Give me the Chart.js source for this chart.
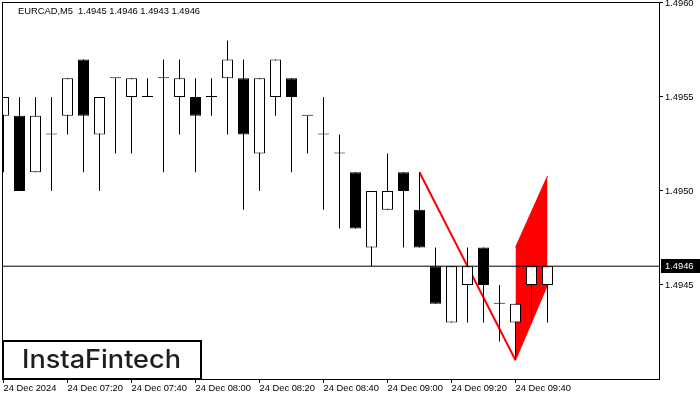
<!DOCTYPE html>
<html>
<head>
<meta charset="utf-8">
<script src="https://cdn.jsdelivr.net/npm/chart.js@4.4.1/dist/chart.umd.min.js"></script>
<style>
  html, body { margin: 0; padding: 0; background: #fff; }
  canvas { display: block; }
</style>
</head>
<body>
<canvas id="priceChart" width="700" height="400"></canvas>
<script>
// EURCAD M5 candles, 24 Dec 07:00 .. 09:50
const symbol = 'EURCAD,M5';
const opens  = [1.4954, 1.4954, 1.4951, 1.4953, 1.4954, 1.4957, 1.4953, 1.4956, 1.4955, 1.4955,
                1.4956, 1.4955, 1.4955, 1.4955, 1.4956, 1.4956, 1.4952, 1.4955, 1.4956, 1.4954,
                1.4953, 1.4952, 1.4951, 1.4947, 1.4949, 1.4951, 1.4949, 1.4946, 1.4943, 1.4945,
                1.4947, 1.4944, 1.4943, 1.4945, 1.4945];
const highs  = [1.4955, 1.4955, 1.4955, 1.4955, 1.4956, 1.4957, 1.4955, 1.4956, 1.4956, 1.4956,
                1.4957, 1.4957, 1.4956, 1.4956, 1.4958, 1.4957, 1.4956, 1.4957, 1.4956, 1.4954,
                1.4955, 1.4953, 1.4951, 1.4950, 1.4952, 1.4951, 1.4951, 1.4947, 1.4946, 1.4947,
                1.4947, 1.4945, 1.4944, 1.4946, 1.4946];
const lows   = [1.4951, 1.4950, 1.4951, 1.4950, 1.4953, 1.4951, 1.4950, 1.4952, 1.4952, 1.4955,
                1.4951, 1.4953, 1.4951, 1.4954, 1.4953, 1.4949, 1.4950, 1.4954, 1.4951, 1.4952,
                1.4949, 1.4948, 1.4948, 1.4946, 1.4949, 1.4947, 1.4947, 1.4944, 1.4943, 1.4943,
                1.4943, 1.4942, 1.4941, 1.4943, 1.4943];
const closes = [1.4955, 1.4950, 1.4954, 1.4953, 1.4956, 1.4954, 1.4955, 1.4956, 1.4956, 1.4955,
                1.4956, 1.4956, 1.4954, 1.4955, 1.4957, 1.4953, 1.4956, 1.4957, 1.4955, 1.4954,
                1.4953, 1.4952, 1.4948, 1.4950, 1.4950, 1.4950, 1.4947, 1.4944, 1.4946, 1.4946,
                1.4945, 1.4944, 1.4944, 1.4946, 1.4946];

const timeTickIndex  = [0, 4, 8, 12, 16, 20, 24, 28, 32];
const timeTickLabels = ['24 Dec 2024', '24 Dec 07:20', '24 Dec 07:40', '24 Dec 08:00', '24 Dec 08:20',
                        '24 Dec 08:40', '24 Dec 09:00', '24 Dec 09:20', '24 Dec 09:40'];
const priceTicks = [1.4945, 1.4950, 1.4955, 1.4960];

// bearish flag: pole from the high of bar 26 to the low of bar 32, flag over bars 32..34
const poleIndex  = [26, 32];
const polePrice  = [1.4951, 1.4941];
const flagIndex  = [32, 34];
const flagTop    = [1.4947, 1.49508];
const flagBottom = [1.4941, 1.4945];

const xMin = -0.09375, xMax = 40.96875;
const yMin = 1.4940, yMax = 1.4960053;

const last = closes.length - 1;
const lastPrice = closes[last];

Chart.defaults.font.family = '"Liberation Sans", Arial, sans-serif';
Chart.defaults.font.size = 9.33;
Chart.defaults.color = '#000';

const frame = {
    id: 'frame',
    afterDraw(chart) {
        const {ctx, chartArea: a} = chart;
        ctx.save();
        ctx.strokeStyle = '#000';
        ctx.lineWidth = 1;
        ctx.strokeRect(a.left + 0.5, a.top + 0.5, a.right - a.left, a.bottom - a.top);

        // header with symbol and last bar OHLC
        ctx.font = '9.33px "Liberation Sans", Arial, sans-serif';
        ctx.fillStyle = '#000';
        ctx.textBaseline = 'middle';
        ctx.textAlign = 'left';
        const ohlc = [opens[last], highs[last], lows[last], closes[last]].map(v => v.toFixed(4)).join(' ');
        ctx.fillText(symbol + '  ' + ohlc, 18, 11);

        // current price tag on the axis
        const y = chart.scales.y.getPixelForValue(lastPrice);
        ctx.fillStyle = '#000';
        ctx.fillRect(a.right + 2, Math.round(y) - 7, 700 - a.right - 2, 14);
        ctx.fillStyle = '#fff';
        ctx.fillText(lastPrice.toFixed(4), a.right + 6, y);

        // logo box
        ctx.fillStyle = '#fff';
        ctx.fillRect(3, 341, 198, 38);
        ctx.lineWidth = 2;
        ctx.strokeStyle = '#000';
        ctx.strokeRect(3, 341, 198, 38);
        ctx.font = '500 25px Inter, sans-serif';
        const w = ctx.measureText('InstaFintech').width;
        ctx.fillStyle = '#1e1e1e';
        ctx.textBaseline = 'alphabetic';
        ctx.translate(22, 368);
        ctx.scale(159 / w, 1);
        ctx.fillText('InstaFintech', 0, 0);
        ctx.restore();
    }
};

new Chart(document.getElementById('priceChart'), {
    type: 'bar',
    data: {
        datasets: [
            {
                type: 'line',
                data: [{x: xMin, y: lastPrice}, {x: xMax, y: lastPrice}],
                borderColor: '#000',
                borderWidth: 1,
                pointRadius: 0,
                order: 1
            },
            {
                type: 'bar',
                data: opens.map((o, i) => ({x: i, y: [o, closes[i]]})),
                backgroundColor: opens.map((o, i) => closes[i] > o ? '#fff' : '#000'),
                borderColor: '#000',
                borderWidth: 1,
                borderSkipped: false,
                barThickness: 11,
                minBarLength: 1,
                inflateAmount: 0,
                grouped: false,
                order: 2
            },
            {
                type: 'bar',
                data: lows.map((l, i) => ({x: i, y: [l, highs[i]]})),
                backgroundColor: '#000',
                borderWidth: 0,
                barThickness: 1,
                inflateAmount: 0,
                grouped: false,
                order: 3
            },
            {
                type: 'line',
                data: poleIndex.map((x, k) => ({x: x, y: polePrice[k]})),
                borderColor: '#ff0000',
                borderWidth: 2,
                pointRadius: 0,
                order: 4
            },
            {
                type: 'line',
                data: flagIndex.map((x, k) => ({x: x, y: flagTop[k]})),
                borderColor: '#ff0000',
                backgroundColor: '#ff0000',
                borderWidth: 1,
                pointRadius: 0,
                fill: '+1',
                order: 5
            },
            {
                type: 'line',
                data: flagIndex.map((x, k) => ({x: x, y: flagBottom[k]})),
                borderColor: '#ff0000',
                borderWidth: 1,
                pointRadius: 0,
                fill: false,
                order: 5
            }
        ]
    },
    options: {
        responsive: false,
        animation: false,
        devicePixelRatio: 1,
        layout: { padding: { left: 2, top: 2, right: 0, bottom: 0 } },
        plugins: { legend: { display: false }, tooltip: { enabled: false }, title: { display: false } },
        scales: {
            x: {
                type: 'linear',
                min: xMin,
                max: xMax,
                offset: false,
                afterBuildTicks: s => { s.ticks = timeTickIndex.map(v => ({value: v})); },
                afterFit: s => { s.height = 21; s.paddingLeft = 0; s.paddingRight = 0; },
                grid: { drawOnChartArea: false, drawTicks: true, tickLength: 4, color: '#000', offset: false },
                border: { display: false },
                ticks: {
                    align: 'start',
                    autoSkip: false,
                    maxRotation: 0,
                    padding: 0,
                    callback: v => timeTickLabels[timeTickIndex.indexOf(v)]
                }
            },
            y: {
                type: 'linear',
                position: 'right',
                min: yMin,
                max: yMax,
                afterBuildTicks: s => { s.ticks = priceTicks.map(v => ({value: v})); },
                afterFit: s => { s.width = 41; s.paddingTop = 0; s.paddingBottom = 0; },
                grid: { drawOnChartArea: false, drawTicks: true, tickLength: 4, color: '#000' },
                border: { display: false },
                ticks: { padding: 2, callback: v => v.toFixed(4) }
            }
        }
    },
    plugins: [frame]
});
</script>
</body>
</html>
